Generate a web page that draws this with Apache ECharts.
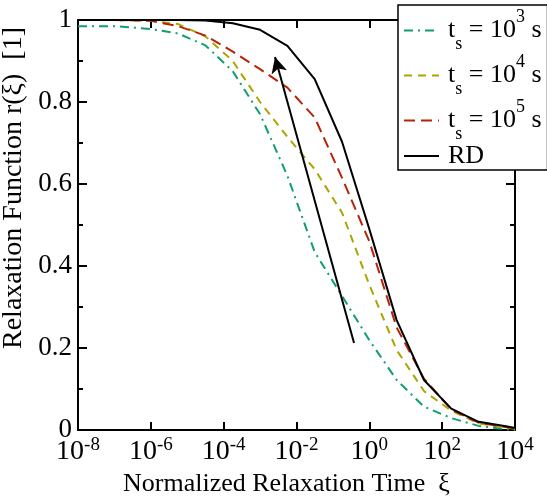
<!DOCTYPE html>
<html>
<head>
<meta charset="utf-8">
<script src="https://cdn.jsdelivr.net/npm/echarts@6/dist/echarts.min.js"></script>
<style>
  html, body { margin: 0; padding: 0; background: #fff; }
  #main { width: 547px; height: 503px; }
</style>
</head>
<body>
<div id="main"></div>
<script>
// sample positions, as log10 of the normalized relaxation time
const logXi = [-8, -7, -6, -5.25, -4.5, -3.75, -3, -2.25, -1.5, -0.75, 0, 0.75, 1.5, 2.25, 3, 3.75, 4];

// relaxation function r(xi)
const ts1e3 = [0.985, 0.985, 0.978, 0.967, 0.938, 0.875, 0.77, 0.62, 0.434, 0.327, 0.219, 0.122, 0.057, 0.029, 0.010, 0.002, 0];
const ts1e4 = [1, 1, 0.998, 0.99, 0.96, 0.9, 0.8, 0.715, 0.636, 0.53, 0.354, 0.195, 0.095, 0.047, 0.016, 0.006, 0.003];
const ts1e5 = [1, 1, 0.998, 0.985, 0.962, 0.923, 0.88, 0.835, 0.762, 0.615, 0.46, 0.25, 0.125, 0.05, 0.018, 0.007, 0.004];
const rd    = [1, 1, 1, 1, 0.999, 0.992, 0.976, 0.937, 0.856, 0.703, 0.49, 0.268, 0.122, 0.052, 0.02, 0.009, 0.005];

// arrow annotation (log10 xi, r)
const arrowFrom = [-0.42, 0.212];
const arrowTo = [-2.59, 0.91];

const seriesNames = ['ts3', 'ts4', 'ts5', 'RD'];
const legendLabels = {
    ts3: '{n|t}{sub|s}{n| = 10}{sup|3}{n| s}',
    ts4: '{n|t}{sub|s}{n| = 10}{sup|4}{n| s}',
    ts5: '{n|t}{sub|s}{n| = 10}{sup|5}{n| s}',
    RD: '{rd|RD}'
};

const FONT = "'Liberation Serif', 'Times New Roman', serif";

const toPairs = (ys) => ys.map((y, i) => [logXi[i], y]);

var myChart = echarts.init(document.getElementById('main'));

const option = {
    animation: false,
    backgroundColor: '#fff',
    grid: { left: 78, right: 32, top: 20, bottom: 73, containLabel: false, outerBoundsMode: 'none' },
    legend: {
        data: seriesNames,
        orient: 'vertical',
        left: 398,
        top: 5,
        padding: [3, 6, 1, 5],
        itemGap: 0,
        itemWidth: 35,
        itemHeight: 14,
        itemStyle: { opacity: 0 },
        backgroundColor: '#fff',
        borderColor: '#000',
        borderWidth: 1.5,
        borderRadius: 0,
        z: 10,
        formatter: (name) => legendLabels[name],
        textStyle: {
            padding: [0, 0, 0, 4],
            rich: {
                n: { fontFamily: FONT, fontSize: 26, color: '#000', lineHeight: 45, verticalAlign: 'middle' },
                sup: { fontFamily: FONT, fontSize: 18, color: '#000', lineHeight: 18, verticalAlign: 'top' },
                sub: { fontFamily: FONT, fontSize: 18, color: '#000', lineHeight: 18, verticalAlign: 'bottom' },
                rd: { fontFamily: FONT, fontSize: 26, color: '#000', lineHeight: 25 }
            }
        }
    },
    xAxis: [
        {
            type: 'value',
            min: -8,
            max: 4,
            interval: 2,
            name: 'Normalized Relaxation Time  ξ',
            nameLocation: 'middle',
            nameGap: 38,
            nameTextStyle: { fontFamily: FONT, fontSize: 26, color: '#000', padding: [0, 20, 0, 0] },
            axisLine: { onZero: false, lineStyle: { color: '#000', width: 2 } },
            axisTick: { inside: true, length: 8, lineStyle: { width: 2, color: '#000' } },
            splitLine: { show: false },
            axisLabel: {
                margin: 6,
                formatter: (v) => '{b|10}{p|' + v + '}',
                rich: {
                    b: { fontFamily: FONT, fontSize: 28, color: '#000', lineHeight: 30, verticalAlign: 'bottom' },
                    p: { fontFamily: FONT, fontSize: 19, color: '#000', lineHeight: 16, verticalAlign: 'top' }
                }
            }
        },
        {
            type: 'value',
            min: -8,
            max: 4,
            interval: 2,
            position: 'top',
            axisLine: { onZero: false, lineStyle: { color: '#000', width: 2 } },
            axisTick: { inside: true, length: 8, lineStyle: { width: 2, color: '#000' } },
            axisLabel: { show: false },
            splitLine: { show: false }
        }
    ],
    yAxis: [
        {
            type: 'value',
            min: 0,
            max: 1,
            interval: 0.2,
            name: 'Relaxation Function r(ξ)  [1]',
            nameLocation: 'middle',
            nameGap: 47,
            nameTextStyle: { fontFamily: FONT, fontSize: 28, color: '#000', padding: [0, 0, 0, 74] },
            axisLine: { onZero: false, lineStyle: { color: '#000', width: 2 } },
            axisTick: { inside: true, length: 9, lineStyle: { width: 2, color: '#000' } },
            minorTick: { show: true, splitNumber: 2, length: 5, lineStyle: { width: 2, color: '#000' } },
            splitLine: { show: false },
            axisLabel: { margin: 6, fontFamily: FONT, fontSize: 27, color: '#000' }
        },
        {
            type: 'value',
            min: 0,
            max: 1,
            interval: 0.2,
            position: 'right',
            axisLine: { onZero: false, lineStyle: { color: '#000', width: 2 } },
            axisTick: { inside: true, length: 9, lineStyle: { width: 2, color: '#000' } },
            minorTick: { show: true, splitNumber: 2, length: 5, lineStyle: { width: 2, color: '#000' } },
            splitLine: { show: false },
            axisLabel: { show: false }
        }
    ],
    series: [
        {
            name: 'ts3',
            type: 'line',
            data: toPairs(ts1e3),
            symbol: 'none',
            color: '#0f9e72',
            lineStyle: { width: 2, type: [9, 5, 2, 5] }
        },
        {
            name: 'ts4',
            type: 'line',
            data: toPairs(ts1e4),
            symbol: 'none',
            color: '#ada400',
            lineStyle: { width: 2, type: [8, 6] }
        },
        {
            name: 'ts5',
            type: 'line',
            data: toPairs(ts1e5),
            symbol: 'none',
            color: '#b52406',
            lineStyle: { width: 2, type: [11, 6] }
        },
        {
            name: 'RD',
            type: 'line',
            data: toPairs(rd),
            symbol: 'none',
            color: '#000',
            lineStyle: { width: 2, type: 'solid' },
            markLine: {
                silent: true,
                symbol: ['none', 'arrow'],
                symbolSize: [12, 16],
                label: { show: false },
                lineStyle: { color: '#000', width: 2, type: 'solid' },
                data: [[
                    { coord: arrowFrom },
                    { coord: arrowTo }
                ]]
            }
        }
    ]
};

myChart.setOption(option);
</script>
</body>
</html>
